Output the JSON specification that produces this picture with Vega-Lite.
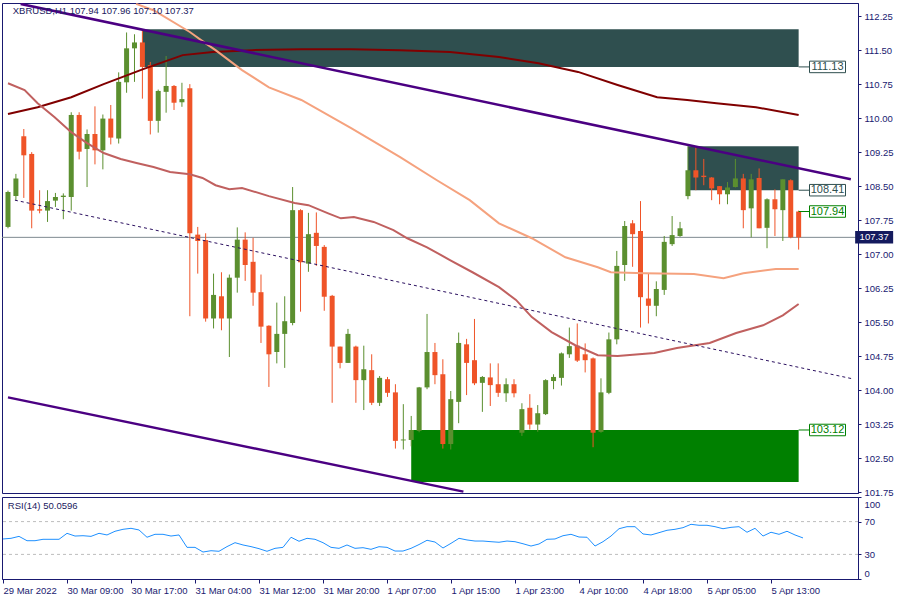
{
  "$schema": "https://vega.github.io/schema/vega-lite/v6.json",
  "background": "white",
  "padding": {"left": 0, "top": 2, "right": 0, "bottom": 0},
  "spacing": 4,
  "bounds": "flush",
  "config": {
    "font": "Liberation Sans",
    "view": {"stroke": "#191970", "strokeWidth": 1},
    "axis": {"labelFont": "Liberation Sans", "labelFontSize": 9.5, "labelColor": "#191970", "domainColor": "#191970", "tickColor": "#191970", "grid": false}
  },
  "datasets": {
    "candles": [
      {"i":0,"o":107.60,"h":108.40,"l":107.57,"c":108.37,"r":48.8},
      {"i":1,"o":108.28,"h":108.77,"l":108.19,"c":108.67,"r":49.6},
      {"i":2,"o":109.60,"h":109.76,"l":108.24,"c":109.18,"r":52.0},
      {"i":3,"o":109.21,"h":109.25,"l":107.57,"c":107.96,"r":46.7},
      {"i":4,"o":107.99,"h":108.41,"l":107.90,"c":107.96,"r":46.7},
      {"i":5,"o":107.96,"h":108.41,"l":107.71,"c":108.17,"r":48.4},
      {"i":6,"o":108.18,"h":108.35,"l":108.04,"c":108.26,"r":48.4},
      {"i":7,"o":108.26,"h":108.34,"l":107.77,"c":108.29,"r":48.4},
      {"i":8,"o":108.26,"h":110.13,"l":107.96,"c":110.07,"r":55.7},
      {"i":9,"o":110.07,"h":110.13,"l":109.09,"c":109.26,"r":52.4},
      {"i":10,"o":109.32,"h":109.75,"l":108.48,"c":109.65,"r":52.8},
      {"i":11,"o":109.65,"h":110.26,"l":108.98,"c":109.29,"r":52.0},
      {"i":12,"o":109.29,"h":110.08,"l":108.87,"c":109.99,"r":55.7},
      {"i":13,"o":109.99,"h":110.29,"l":109.42,"c":109.57,"r":53.7},
      {"i":14,"o":109.55,"h":111.01,"l":109.44,"c":110.80,"r":58.2},
      {"i":15,"o":110.79,"h":111.89,"l":110.56,"c":111.54,"r":60.6},
      {"i":16,"o":111.54,"h":111.85,"l":110.80,"c":111.67,"r":61.8},
      {"i":17,"o":111.67,"h":111.96,"l":110.43,"c":111.13,"r":59.8},
      {"i":18,"o":111.17,"h":111.24,"l":109.64,"c":109.94,"r":50.9},
      {"i":19,"o":109.94,"h":110.63,"l":109.68,"c":110.60,"r":54.5},
      {"i":20,"o":110.58,"h":111.37,"l":110.12,"c":110.71,"r":54.5},
      {"i":21,"o":110.71,"h":110.73,"l":110.18,"c":110.34,"r":52.4},
      {"i":22,"o":110.35,"h":110.78,"l":110.25,"c":110.42,"r":53.7},
      {"i":23,"o":110.66,"h":110.75,"l":105.63,"c":107.46,"r":38.6},
      {"i":24,"o":107.43,"h":107.60,"l":106.57,"c":107.29,"r":38.6},
      {"i":25,"o":107.31,"h":107.46,"l":105.51,"c":105.58,"r":32.9},
      {"i":26,"o":105.58,"h":106.57,"l":105.36,"c":106.10,"r":34.5},
      {"i":27,"o":106.07,"h":106.60,"l":105.32,"c":105.58,"r":33.8},
      {"i":28,"o":105.58,"h":106.55,"l":104.73,"c":106.48,"r":39.5},
      {"i":29,"o":106.48,"h":107.59,"l":106.15,"c":107.32,"r":44.3},
      {"i":30,"o":107.32,"h":107.48,"l":106.41,"c":106.76,"r":41.5},
      {"i":31,"o":106.83,"h":107.36,"l":105.86,"c":106.15,"r":39.5},
      {"i":32,"o":106.16,"h":106.55,"l":105.04,"c":105.40,"r":37.0},
      {"i":33,"o":105.42,"h":105.43,"l":104.07,"c":104.79,"r":33.8},
      {"i":34,"o":104.84,"h":105.93,"l":104.59,"c":105.24,"r":37.4},
      {"i":35,"o":105.24,"h":106.07,"l":104.49,"c":105.52,"r":38.6},
      {"i":36,"o":105.48,"h":108.48,"l":105.43,"c":107.97,"r":50.9},
      {"i":37,"o":107.97,"h":107.99,"l":105.73,"c":106.82,"r":46.0},
      {"i":38,"o":106.79,"h":107.91,"l":106.61,"c":107.44,"r":49.6},
      {"i":39,"o":107.47,"h":107.92,"l":106.74,"c":107.18,"r":48.4},
      {"i":40,"o":107.16,"h":107.20,"l":105.75,"c":106.06,"r":44.3},
      {"i":41,"o":106.08,"h":106.10,"l":103.72,"c":104.96,"r":38.6},
      {"i":42,"o":104.96,"h":104.96,"l":104.48,"c":104.60,"r":37.4},
      {"i":43,"o":104.60,"h":105.35,"l":104.60,"c":105.24,"r":41.5},
      {"i":44,"o":104.96,"h":104.98,"l":103.72,"c":104.22,"r":37.4},
      {"i":45,"o":104.22,"h":104.98,"l":103.56,"c":104.46,"r":38.2},
      {"i":46,"o":104.44,"h":104.79,"l":103.67,"c":103.72,"r":36.2},
      {"i":47,"o":103.72,"h":104.31,"l":103.65,"c":104.27,"r":39.4},
      {"i":48,"o":104.24,"h":104.29,"l":103.85,"c":103.94,"r":38.6},
      {"i":49,"o":103.95,"h":104.13,"l":102.71,"c":102.88,"r":34.1},
      {"i":50,"o":102.89,"h":103.69,"l":102.69,"c":102.91,"r":34.1},
      {"i":51,"o":102.90,"h":103.43,"l":102.76,"c":103.12,"r":37.4},
      {"i":52,"o":103.10,"h":104.07,"l":103.07,"c":104.06,"r":42.0},
      {"i":53,"o":104.06,"h":105.68,"l":104.02,"c":104.84,"r":47.2},
      {"i":54,"o":104.84,"h":105.04,"l":104.13,"c":104.33,"r":45.1},
      {"i":55,"o":104.35,"h":104.68,"l":102.71,"c":102.81,"r":37.8},
      {"i":56,"o":102.81,"h":103.98,"l":102.69,"c":103.80,"r":43.5},
      {"i":57,"o":103.74,"h":105.27,"l":103.27,"c":105.04,"r":49.6},
      {"i":58,"o":105.01,"h":105.13,"l":103.89,"c":104.60,"r":47.6},
      {"i":59,"o":104.66,"h":105.57,"l":104.11,"c":104.15,"r":46.3},
      {"i":60,"o":104.16,"h":104.31,"l":103.52,"c":104.29,"r":46.3},
      {"i":61,"o":104.28,"h":104.59,"l":103.65,"c":104.11,"r":45.5},
      {"i":62,"o":104.13,"h":104.59,"l":103.85,"c":103.94,"r":44.8},
      {"i":63,"o":103.93,"h":104.26,"l":103.74,"c":104.13,"r":46.3},
      {"i":64,"o":104.13,"h":104.24,"l":103.84,"c":103.93,"r":45.5},
      {"i":65,"o":103.06,"h":103.71,"l":102.99,"c":103.58,"r":43.0},
      {"i":66,"o":103.61,"h":103.91,"l":103.13,"c":103.24,"r":40.2},
      {"i":67,"o":103.24,"h":103.67,"l":103.08,"c":103.49,"r":42.7},
      {"i":68,"o":103.47,"h":104.24,"l":103.45,"c":104.22,"r":48.4},
      {"i":69,"o":104.20,"h":104.35,"l":104.02,"c":104.29,"r":48.8},
      {"i":70,"o":104.27,"h":104.83,"l":104.10,"c":104.81,"r":52.8},
      {"i":71,"o":104.79,"h":105.38,"l":104.71,"c":104.97,"r":54.5},
      {"i":72,"o":104.98,"h":105.47,"l":104.62,"c":104.65,"r":51.2},
      {"i":73,"o":104.79,"h":105.03,"l":104.39,"c":104.66,"r":50.9},
      {"i":74,"o":104.70,"h":104.72,"l":102.74,"c":103.06,"r":40.2},
      {"i":75,"o":103.08,"h":104.26,"l":103.06,"c":103.95,"r":45.5},
      {"i":76,"o":103.94,"h":105.27,"l":103.91,"c":105.12,"r":52.4},
      {"i":77,"o":105.12,"h":107.07,"l":105.01,"c":106.74,"r":61.3},
      {"i":78,"o":106.76,"h":107.73,"l":106.41,"c":107.62,"r":63.8},
      {"i":79,"o":107.68,"h":107.75,"l":106.72,"c":107.44,"r":63.8},
      {"i":80,"o":107.51,"h":108.17,"l":105.38,"c":106.05,"r":54.9},
      {"i":81,"o":106.02,"h":106.57,"l":105.47,"c":105.86,"r":53.7},
      {"i":82,"o":105.86,"h":106.40,"l":105.63,"c":106.23,"r":56.5},
      {"i":83,"o":106.21,"h":107.40,"l":106.10,"c":107.27,"r":59.4},
      {"i":84,"o":107.22,"h":107.84,"l":107.18,"c":107.42,"r":60.6},
      {"i":85,"o":107.40,"h":107.71,"l":107.38,"c":107.57,"r":62.6},
      {"i":86,"o":108.28,"h":109.38,"l":108.21,"c":108.85,"r":66.7},
      {"i":87,"o":108.85,"h":109.37,"l":108.41,"c":108.69,"r":65.5},
      {"i":88,"o":108.73,"h":109.10,"l":108.52,"c":108.70,"r":65.5},
      {"i":89,"o":108.69,"h":108.70,"l":108.19,"c":108.45,"r":63.8},
      {"i":90,"o":108.50,"h":108.50,"l":108.10,"c":108.32,"r":61.3},
      {"i":91,"o":108.32,"h":108.59,"l":108.10,"c":108.47,"r":63.0},
      {"i":92,"o":108.48,"h":109.10,"l":108.47,"c":108.67,"r":63.8},
      {"i":93,"o":108.67,"h":108.77,"l":107.57,"c":107.97,"r":57.0},
      {"i":94,"o":108.01,"h":108.77,"l":107.37,"c":108.65,"r":61.8},
      {"i":95,"o":108.68,"h":108.89,"l":107.57,"c":107.57,"r":52.4},
      {"i":96,"o":107.58,"h":108.23,"l":107.13,"c":108.21,"r":57.0},
      {"i":97,"o":108.21,"h":108.43,"l":107.40,"c":107.99,"r":54.5},
      {"i":98,"o":107.97,"h":108.65,"l":107.29,"c":108.65,"r":58.2},
      {"i":99,"o":108.63,"h":108.65,"l":107.35,"c":107.37,"r":53.7},
      {"i":100,"o":107.94,"h":107.96,"l":107.10,"c":107.37,"r":50.06}
    ],
    "ma": [
      {"s":"ma1","i":0,"p":110.09},{"s":"ma1","i":3.75,"p":110.24},{"s":"ma1","i":8,"p":110.46},{"s":"ma1","i":12.1,"p":110.75},
      {"s":"ma1","i":17.1,"p":111.08},{"s":"ma1","i":22.1,"p":111.39},{"s":"ma1","i":25.9,"p":111.46},{"s":"ma1","i":30.9,"p":111.50},
      {"s":"ma1","i":37.1,"p":111.52},{"s":"ma1","i":43.4,"p":111.52},{"s":"ma1","i":49.6,"p":111.50},{"s":"ma1","i":55.9,"p":111.46},
      {"s":"ma1","i":62.1,"p":111.35},{"s":"ma1","i":67.1,"p":111.21},{"s":"ma1","i":72.1,"p":111.02},{"s":"ma1","i":77.1,"p":110.73},
      {"s":"ma1","i":82.1,"p":110.46},{"s":"ma1","i":85.9,"p":110.40},{"s":"ma1","i":89.6,"p":110.33},{"s":"ma1","i":94.6,"p":110.24},
      {"s":"ma1","i":100,"p":110.07},
      {"s":"ma2","i":16.2,"p":112.52},{"s":"ma2","i":18.4,"p":112.38},{"s":"ma2","i":23,"p":111.90},{"s":"ma2","i":25,"p":111.65},
      {"s":"ma2","i":26.25,"p":111.50},{"s":"ma2","i":29.6,"p":111.06},{"s":"ma2","i":33,"p":110.68},{"s":"ma2","i":37.1,"p":110.40},
      {"s":"ma2","i":43.4,"p":109.78},{"s":"ma2","i":49.6,"p":109.14},{"s":"ma2","i":54.25,"p":108.63},{"s":"ma2","i":58.4,"p":108.19},
      {"s":"ma2","i":62.1,"p":107.68},{"s":"ma2","i":66.25,"p":107.35},{"s":"ma2","i":70.5,"p":106.93},{"s":"ma2","i":74.6,"p":106.71},
      {"s":"ma2","i":76.25,"p":106.60},{"s":"ma2","i":80.5,"p":106.58},{"s":"ma2","i":86.75,"p":106.56},{"s":"ma2","i":90.5,"p":106.47},
      {"s":"ma2","i":93,"p":106.58},{"s":"ma2","i":97.1,"p":106.67},{"s":"ma2","i":100,"p":106.67},
      {"s":"ma3","i":0,"p":110.77},{"s":"ma3","i":2.1,"p":110.62},{"s":"ma3","i":3.75,"p":110.33},{"s":"ma3","i":5.9,"p":110.02},
      {"s":"ma3","i":8,"p":109.69},{"s":"ma3","i":10,"p":109.45},{"s":"ma3","i":12.1,"p":109.23},{"s":"ma3","i":14.25,"p":109.10},
      {"s":"ma3","i":16.25,"p":109.01},{"s":"ma3","i":18.4,"p":108.92},{"s":"ma3","i":20.5,"p":108.81},{"s":"ma3","i":23,"p":108.76},
      {"s":"ma3","i":24.6,"p":108.68},{"s":"ma3","i":26.25,"p":108.52},{"s":"ma3","i":28,"p":108.43},{"s":"ma3","i":29.6,"p":108.46},
      {"s":"ma3","i":33,"p":108.28},{"s":"ma3","i":36.25,"p":108.13},{"s":"ma3","i":38,"p":108.08},{"s":"ma3","i":40.5,"p":107.90},
      {"s":"ma3","i":42.1,"p":107.79},{"s":"ma3","i":43.75,"p":107.82},{"s":"ma3","i":46.25,"p":107.71},{"s":"ma3","i":48.75,"p":107.53},
      {"s":"ma3","i":50.5,"p":107.35},{"s":"ma3","i":53,"p":107.15},{"s":"ma3","i":55.9,"p":106.87},{"s":"ma3","i":58.75,"p":106.60},
      {"s":"ma3","i":62.1,"p":106.27},{"s":"ma3","i":64.25,"p":105.99},{"s":"ma3","i":66.25,"p":105.61},{"s":"ma3","i":68.75,"p":105.28},
      {"s":"ma3","i":71.75,"p":104.99},{"s":"ma3","i":74.6,"p":104.77},{"s":"ma3","i":77.1,"p":104.75},{"s":"ma3","i":81.75,"p":104.82},
      {"s":"ma3","i":84.6,"p":104.93},{"s":"ma3","i":88.75,"p":105.04},{"s":"ma3","i":92.1,"p":105.26},{"s":"ma3","i":95.5,"p":105.43},
      {"s":"ma3","i":98,"p":105.65},{"s":"ma3","i":100,"p":105.90}
    ],
    "chan": [
      {"s":"top","i":1.6,"p":112.52},{"s":"top","i":106.6,"p":108.65},
      {"s":"bot","i":0,"p":103.84},{"s":"bot","i":57.6,"p":101.76},
      {"s":"mid","i":0.875,"p":108.19},{"s":"mid","i":106.8,"p":104.25}
    ],
    "zones": [
      {"zone":"resistance","x1":17,"x2":100,"lo":111.13,"hi":111.96},
      {"zone":"resistance","x1":86,"x2":100,"lo":108.41,"hi":109.38},
      {"zone":"support","x1":51,"x2":100,"lo":101.97,"hi":103.12}
    ],
    "labels": [
      {"p":111.13,"t":"111.13","k":"slate"},
      {"p":108.41,"t":"108.41","k":"slate"},
      {"p":107.94,"t":"107.94","k":"green"},
      {"p":103.12,"t":"103.12","k":"green"}
    ]
  },
  "vconcat": [
    {
      "width": 856,
      "height": 490,
      "layer": [
        {
          "data": {"name": "zones"},
          "mark": {"type": "rect"},
          "encoding": {
            "x": {"field": "x1", "type": "quantitative", "scale": {"domain": [-0.125, 106.875], "nice": false, "zero": false}, "axis": null},
            "x2": {"field": "x2"},
            "y": {"field": "lo", "type": "quantitative", "scale": {"domain": [101.73, 112.54], "nice": false, "zero": false},
              "axis": {"orient": "right", "values": [101.75, 102.5, 103.25, 104, 104.75, 105.5, 106.25, 107, 107.75, 108.5, 109.25, 110, 110.75, 111.5, 112.25], "format": ".2f", "tickSize": 3, "labelPadding": 3, "title": null}},
            "y2": {"field": "hi"},
            "color": {"condition": {"test": "datum.zone === 'support'", "value": "#008000"}, "value": "#2f4f4f"}
          }
        },
        {
          "data": {"values": [{"p": 107.37}]},
          "mark": {"type": "rule", "color": "#7f8a90", "strokeWidth": 1},
          "encoding": {
            "y": {"field": "p", "type": "quantitative", "scale": {"domain": [101.73, 112.54], "nice": false, "zero": false},
              "axis": {"orient": "right", "values": [101.75, 102.5, 103.25, 104, 104.75, 105.5, 106.25, 107, 107.75, 108.5, 109.25, 110, 110.75, 111.5, 112.25], "format": ".2f", "tickSize": 3, "labelPadding": 3, "title": null}}
          }
        },
        {
          "data": {"name": "candles"},
          "mark": {"type": "rule", "strokeWidth": 1, "clip": true},
          "encoding": {
            "x": {"field": "i", "type": "quantitative", "scale": {"domain": [-0.125, 106.875], "nice": false, "zero": false}, "axis": null},
            "y": {"field": "l", "type": "quantitative", "scale": {"domain": [101.73, 112.54], "nice": false, "zero": false},
              "axis": {"orient": "right", "values": [101.75, 102.5, 103.25, 104, 104.75, 105.5, 106.25, 107, 107.75, 108.5, 109.25, 110, 110.75, 111.5, 112.25], "format": ".2f", "tickSize": 3, "labelPadding": 3, "title": null}},
            "y2": {"field": "h"},
            "color": {"condition": {"test": "datum.c >= datum.o", "value": "#5b8f2f"}, "value": "#ef5428"}
          }
        },
        {
          "data": {"name": "candles"},
          "mark": {"type": "bar", "size": 5, "clip": true},
          "encoding": {
            "x": {"field": "i", "type": "quantitative", "scale": {"domain": [-0.125, 106.875], "nice": false, "zero": false}, "axis": null},
            "y": {"field": "o", "type": "quantitative", "scale": {"domain": [101.73, 112.54], "nice": false, "zero": false},
              "axis": {"orient": "right", "values": [101.75, 102.5, 103.25, 104, 104.75, 105.5, 106.25, 107, 107.75, 108.5, 109.25, 110, 110.75, 111.5, 112.25], "format": ".2f", "tickSize": 3, "labelPadding": 3, "title": null}},
            "y2": {"field": "c"},
            "color": {"condition": {"test": "datum.c >= datum.o", "value": "#5b8f2f"}, "value": "#ef5428"}
          }
        },
        {
          "data": {"name": "ma"},
          "mark": {"type": "line", "strokeWidth": 2, "clip": true},
          "encoding": {
            "x": {"field": "i", "type": "quantitative", "scale": {"domain": [-0.125, 106.875], "nice": false, "zero": false}, "axis": null},
            "y": {"field": "p", "type": "quantitative", "scale": {"domain": [101.73, 112.54], "nice": false, "zero": false},
              "axis": {"orient": "right", "values": [101.75, 102.5, 103.25, 104, 104.75, 105.5, 106.25, 107, 107.75, 108.5, 109.25, 110, 110.75, 111.5, 112.25], "format": ".2f", "tickSize": 3, "labelPadding": 3, "title": null}},
            "color": {"field": "s", "type": "nominal", "scale": {"domain": ["ma1", "ma2", "ma3"], "range": ["#800000", "#f5a27e", "#c0605f"]}, "legend": null}
          }
        },
        {
          "data": {"name": "chan"},
          "transform": [{"filter": "datum.s !== 'mid'"}],
          "mark": {"type": "line", "strokeWidth": 2.5, "color": "#4b0082", "clip": true},
          "encoding": {
            "x": {"field": "i", "type": "quantitative", "scale": {"domain": [-0.125, 106.875], "nice": false, "zero": false}, "axis": null},
            "y": {"field": "p", "type": "quantitative", "scale": {"domain": [101.73, 112.54], "nice": false, "zero": false},
              "axis": {"orient": "right", "values": [101.75, 102.5, 103.25, 104, 104.75, 105.5, 106.25, 107, 107.75, 108.5, 109.25, 110, 110.75, 111.5, 112.25], "format": ".2f", "tickSize": 3, "labelPadding": 3, "title": null}},
            "detail": {"field": "s", "type": "nominal"}
          }
        },
        {
          "data": {"name": "chan"},
          "transform": [{"filter": "datum.s === 'mid'"}],
          "mark": {"type": "line", "strokeWidth": 1, "color": "#2b1060", "strokeDash": [3, 3], "clip": true},
          "encoding": {
            "x": {"field": "i", "type": "quantitative", "scale": {"domain": [-0.125, 106.875], "nice": false, "zero": false}, "axis": null},
            "y": {"field": "p", "type": "quantitative", "scale": {"domain": [101.73, 112.54], "nice": false, "zero": false},
              "axis": {"orient": "right", "values": [101.75, 102.5, 103.25, 104, 104.75, 105.5, 106.25, 107, 107.75, 108.5, 109.25, 110, 110.75, 111.5, 112.25], "format": ".2f", "tickSize": 3, "labelPadding": 3, "title": null}}
          }
        },
        {
          "data": {"name": "labels"},
          "mark": {"type": "rule", "strokeWidth": 1},
          "encoding": {
            "x": {"datum": 100, "type": "quantitative", "scale": {"domain": [-0.125, 106.875], "nice": false, "zero": false}, "axis": null},
            "x2": {"datum": 101.4},
            "y": {"field": "p", "type": "quantitative", "scale": {"domain": [101.73, 112.54], "nice": false, "zero": false},
              "axis": {"orient": "right", "values": [101.75, 102.5, 103.25, 104, 104.75, 105.5, 106.25, 107, 107.75, 108.5, 109.25, 110, 110.75, 111.5, 112.25], "format": ".2f", "tickSize": 3, "labelPadding": 3, "title": null}},
            "color": {"condition": {"test": "datum.k === 'green'", "value": "#008000"}, "value": "#2f4f4f"}
          }
        },
        {
          "data": {"name": "labels"},
          "mark": {"type": "point", "shape": "M-1,-0.32H1V0.32H-1Z", "size": 1296, "filled": false, "fill": "white", "fillOpacity": 1, "strokeWidth": 1, "opacity": 1},
          "encoding": {
            "x": {"datum": 103.65, "type": "quantitative", "scale": {"domain": [-0.125, 106.875], "nice": false, "zero": false}, "axis": null},
            "y": {"field": "p", "type": "quantitative", "scale": {"domain": [101.73, 112.54], "nice": false, "zero": false},
              "axis": {"orient": "right", "values": [101.75, 102.5, 103.25, 104, 104.75, 105.5, 106.25, 107, 107.75, 108.5, 109.25, 110, 110.75, 111.5, 112.25], "format": ".2f", "tickSize": 3, "labelPadding": 3, "title": null}},
            "stroke": {"condition": {"test": "datum.k === 'green'", "value": "#008000"}, "value": "#2f4f4f"}
          }
        },
        {
          "data": {"name": "labels"},
          "mark": {"type": "text", "align": "center", "baseline": "middle", "fontSize": 11, "font": "Liberation Sans"},
          "encoding": {
            "x": {"datum": 103.65, "type": "quantitative", "scale": {"domain": [-0.125, 106.875], "nice": false, "zero": false}, "axis": null},
            "y": {"field": "p", "type": "quantitative", "scale": {"domain": [101.73, 112.54], "nice": false, "zero": false},
              "axis": {"orient": "right", "values": [101.75, 102.5, 103.25, 104, 104.75, 105.5, 106.25, 107, 107.75, 108.5, 109.25, 110, 110.75, 111.5, 112.25], "format": ".2f", "tickSize": 3, "labelPadding": 3, "title": null}},
            "text": {"field": "t", "type": "nominal"},
            "color": {"condition": {"test": "datum.k === 'green'", "value": "#008000"}, "value": "#2f4f4f"}
          }
        },
        {
          "data": {"values": [{"p": 107.37, "t": "107.37"}]},
          "mark": {"type": "point", "shape": "M-1,-0.33H1V0.33H-1Z", "size": 1444, "filled": true, "color": "#141a5e", "opacity": 1},
          "encoding": {
            "x": {"datum": 109.55, "type": "quantitative", "scale": {"domain": [-0.125, 106.875], "nice": false, "zero": false}, "axis": null},
            "y": {"field": "p", "type": "quantitative", "scale": {"domain": [101.73, 112.54], "nice": false, "zero": false},
              "axis": {"orient": "right", "values": [101.75, 102.5, 103.25, 104, 104.75, 105.5, 106.25, 107, 107.75, 108.5, 109.25, 110, 110.75, 111.5, 112.25], "format": ".2f", "tickSize": 3, "labelPadding": 3, "title": null}}
          }
        },
        {
          "data": {"values": [{"p": 107.37, "t": "107.37"}]},
          "mark": {"type": "text", "align": "center", "baseline": "middle", "fontSize": 9.5, "color": "white"},
          "encoding": {
            "x": {"datum": 109.55, "type": "quantitative", "scale": {"domain": [-0.125, 106.875], "nice": false, "zero": false}, "axis": null},
            "y": {"field": "p", "type": "quantitative", "scale": {"domain": [101.73, 112.54], "nice": false, "zero": false},
              "axis": {"orient": "right", "values": [101.75, 102.5, 103.25, 104, 104.75, 105.5, 106.25, 107, 107.75, 108.5, 109.25, 110, 110.75, 111.5, 112.25], "format": ".2f", "tickSize": 3, "labelPadding": 3, "title": null}},
            "text": {"field": "t", "type": "nominal"}
          }
        },
        {
          "data": {"values": [{"t": "XBRUSD,H1  107.94 107.96 107.10 107.37"}]},
          "mark": {"type": "text", "align": "left", "baseline": "middle", "fontSize": 9.5, "color": "#1a2060"},
          "encoding": {
            "x": {"datum": 0.6, "type": "quantitative", "scale": {"domain": [-0.125, 106.875], "nice": false, "zero": false}, "axis": null},
            "y": {"datum": 112.37, "type": "quantitative", "scale": {"domain": [101.73, 112.54], "nice": false, "zero": false},
              "axis": {"orient": "right", "values": [101.75, 102.5, 103.25, 104, 104.75, 105.5, 106.25, 107, 107.75, 108.5, 109.25, 110, 110.75, 111.5, 112.25], "format": ".2f", "tickSize": 3, "labelPadding": 3, "title": null}},
            "text": {"field": "t", "type": "nominal"}
          }
        }
      ]
    },
    {
      "width": 856,
      "height": 82,
      "layer": [
        {
          "data": {"values": [{"v": 30}, {"v": 70}]},
          "mark": {"type": "rule", "color": "#bdbdbd", "strokeDash": [3, 3], "strokeWidth": 1},
          "encoding": {
            "y": {"field": "v", "type": "quantitative", "scale": {"domain": [0, 100], "nice": false, "zero": false},
              "axis": {"orient": "right", "values": [0, 30, 70, 100], "labelOverlap": false, "labelOffset": {"condition": [{"test": "datum.value >= 100", "value": 7}, {"test": "datum.value <= 0", "value": -6}], "value": 0}, "tickSize": 3, "labelPadding": 3, "title": null}}
          }
        },
        {
          "data": {"name": "candles"},
          "mark": {"type": "line", "color": "#1e90ff", "strokeWidth": 1},
          "encoding": {
            "x": {"field": "i", "type": "quantitative", "scale": {"domain": [-0.125, 106.875], "nice": false, "zero": false},
              "axis": {"orient": "bottom", "values": [0, 8, 16, 24, 32, 40, 48, 56, 64, 72, 80, 88, 96],
                "labelExpr": "['29 Mar 2022','30 Mar 09:00','30 Mar 17:00','31 Mar 04:00','31 Mar 12:00','31 Mar 20:00','1 Apr 07:00','1 Apr 15:00','1 Apr 23:00','4 Apr 10:00','4 Apr 18:00','5 Apr 05:00','5 Apr 13:00'][round(datum.value / 8)]",
                "labelAlign": "left", "labelFlush": false, "labelOverlap": false, "tickSize": 4, "labelPadding": 2, "title": null}},
            "y": {"field": "r", "type": "quantitative", "scale": {"domain": [0, 100], "nice": false, "zero": false},
              "axis": {"orient": "right", "values": [0, 30, 70, 100], "labelOverlap": false, "labelOffset": {"condition": [{"test": "datum.value >= 100", "value": 7}, {"test": "datum.value <= 0", "value": -6}], "value": 0}, "tickSize": 3, "labelPadding": 3, "title": null}}
          }
        },
        {
          "data": {"values": [{"t": "RSI(14) 50.0596"}]},
          "mark": {"type": "text", "align": "left", "baseline": "middle", "fontSize": 9.5, "color": "#1a2060"},
          "encoding": {
            "x": {"datum": 0.6, "type": "quantitative", "scale": {"domain": [-0.125, 106.875], "nice": false, "zero": false},
              "axis": {"orient": "bottom", "values": [0, 8, 16, 24, 32, 40, 48, 56, 64, 72, 80, 88, 96],
                "labelExpr": "['29 Mar 2022','30 Mar 09:00','30 Mar 17:00','31 Mar 04:00','31 Mar 12:00','31 Mar 20:00','1 Apr 07:00','1 Apr 15:00','1 Apr 23:00','4 Apr 10:00','4 Apr 18:00','5 Apr 05:00','5 Apr 13:00'][round(datum.value / 8)]",
                "labelAlign": "left", "labelFlush": false, "labelOverlap": false, "tickSize": 4, "labelPadding": 2, "title": null}},
            "y": {"datum": 89, "type": "quantitative", "scale": {"domain": [0, 100], "nice": false, "zero": false},
              "axis": {"orient": "right", "values": [0, 30, 70, 100], "labelOverlap": false, "labelOffset": {"condition": [{"test": "datum.value >= 100", "value": 7}, {"test": "datum.value <= 0", "value": -6}], "value": 0}, "tickSize": 3, "labelPadding": 3, "title": null}},
            "text": {"field": "t", "type": "nominal"}
          }
        }
      ]
    }
  ]
}
